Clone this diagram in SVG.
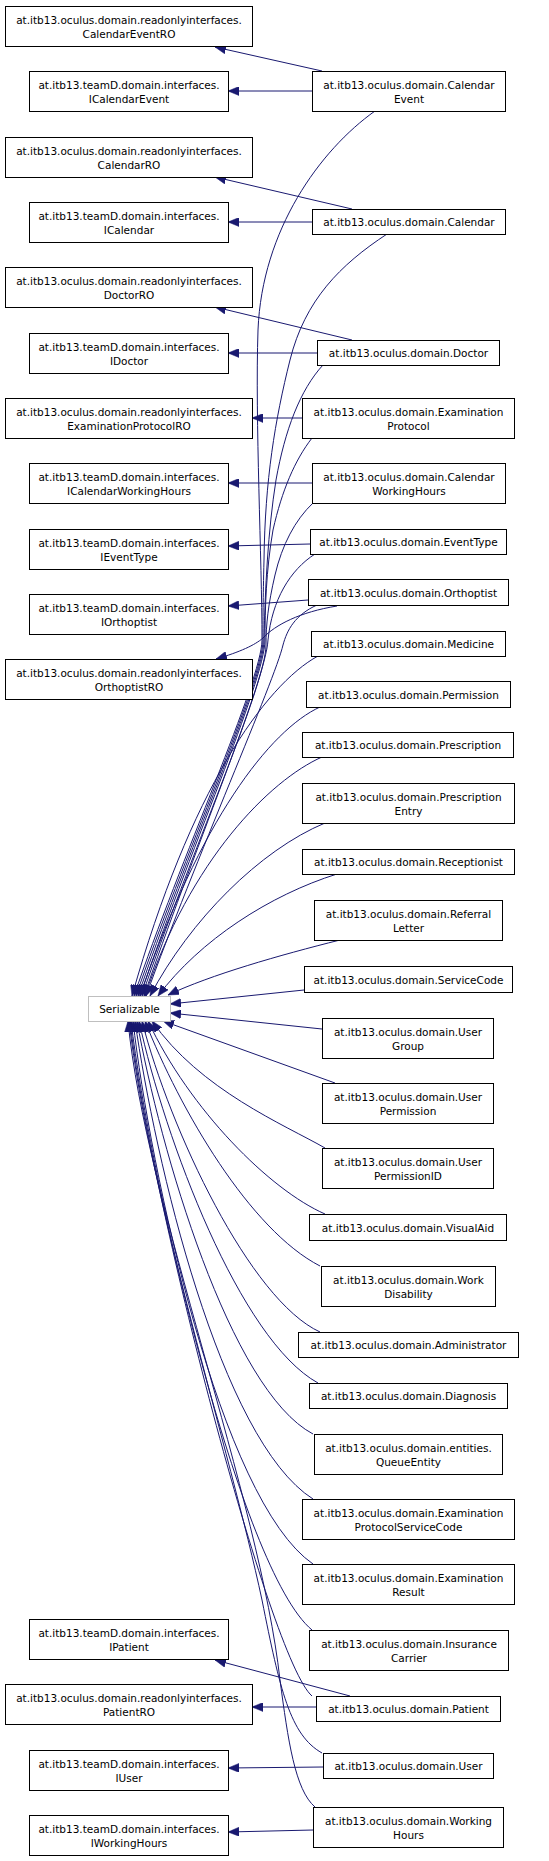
<svg xmlns="http://www.w3.org/2000/svg" width="549" height="1861" viewBox="0 0 549 1861">
<style>
.n rect{fill:#fff;stroke:#000;stroke-width:1}
.s rect{fill:#fff;stroke:#bfbfbf;stroke-width:1}
text{font-family:"DejaVu Sans","Liberation Sans",sans-serif;font-size:10.5px;fill:#000;text-anchor:middle}
#edges path{fill:none;stroke:#191970;stroke-width:1;marker-end:url(#ah)}
</style>
<defs>
<marker id="ah" markerUnits="userSpaceOnUse" markerWidth="12" markerHeight="9" refX="11" refY="4.5" orient="auto">
<path d="M0,0 L11,4.5 L0,9 z" fill="#191970" stroke="#191970" stroke-width="0.5"/>
</marker>
</defs>
<rect width="549" height="1861" fill="#fff"/>
<g id="edges">
<path d="M322,71 L215,47"/>
<path d="M312,91 L228,91"/>
<path d="M352,209 L215,177"/>
<path d="M312,222 L228,222"/>
<path d="M352,340 L215,307"/>
<path d="M317,353 L228,353"/>
<path d="M302,418 L252,418"/>
<path d="M312,483 L228,483"/>
<path d="M310,544 L228,546"/>
<path d="M308,600 L228,606"/>
<path d="M337,606 C300,612 275,625 263,638 C255,645 240,652 216,659"/>
<path d="M350,1696 L215,1660"/>
<path d="M316,1707 L252,1707"/>
<path d="M323,1767 L228,1768"/>
<path d="M313,1830 L228,1832"/>
<path d="M375,111 C320,150 262,230 258,330 C255,420 262,560 262,640 C262,680 180,860 134,996"/>
<path d="M387,234 C340,265 305,300 290,360 C275,420 265,480 264,560 C263,600 263,620 263,640 C263,680 182,860 136,996"/>
<path d="M323,365 C300,390 285,430 276,480 C268,530 265,590 264,640 C264,680 184,860 138,996"/>
<path d="M312,438 C295,460 282,490 273,530 C266,570 265,610 265,640 C265,680 186,860 140,996"/>
<path d="M313,503 C295,520 282,545 275,575 C268,605 266,625 266,645 C266,685 188,860 142,996"/>
<path d="M315,554 C290,570 272,600 268,640 C266,680 190,860 144,996"/>
<path d="M317,605 C295,615 287,630 283,645 C275,680 195,860 146,996"/>
<path d="M318,656 C265,685 190,790 132,996"/>
<path d="M320,707 C270,730 200,820 140,996"/>
<path d="M322,757 C270,780 190,860 145,996"/>
<path d="M325,823 C260,850 190,920 150,996"/>
<path d="M337,874 C270,895 200,940 158,996"/>
<path d="M340,940 C280,955 210,975 168,995"/>
<path d="M304,990 L170,1004"/>
<path d="M322,1029 L170,1013"/>
<path d="M335,1083 L163,1021"/>
<path d="M325,1148 C285,1125 200,1090 152,1021"/>
<path d="M325,1214 C270,1190 190,1110 148,1021"/>
<path d="M320,1266 C250,1230 180,1110 145,1021"/>
<path d="M320,1332 C250,1300 170,1130 142,1021"/>
<path d="M318,1383 C240,1340 165,1140 139,1021"/>
<path d="M313,1434 C230,1390 160,1150 137,1021"/>
<path d="M313,1499 C220,1440 155,1160 135,1021"/>
<path d="M313,1564 C220,1500 150,1170 133,1021"/>
<path d="M312,1630 C240,1570 150,1180 131,1021"/>
<path d="M312,1696 C270,1660 150,1200 130,1021"/>
<path d="M322,1753 C290,1735 280,1690 262,1600 C230,1450 150,1200 129,1021"/>
<path d="M315,1807 C295,1790 288,1740 280,1680 C260,1500 145,1200 128,1021"/>
</g>
<g id="CalendarEventRO" class="n"><rect x="5.5" y="6.5" width="247" height="40"/><text x="129" y="24">at.itb13.oculus.domain.readonlyinterfaces.</text><text x="129" y="38">CalendarEventRO</text></g>
<g id="ICalendarEvent" class="n"><rect x="29.5" y="71.5" width="199" height="40"/><text x="129" y="89">at.itb13.teamD.domain.interfaces.</text><text x="129" y="103">ICalendarEvent</text></g>
<g id="CalendarRO" class="n"><rect x="5.5" y="137.5" width="247" height="40"/><text x="129" y="155">at.itb13.oculus.domain.readonlyinterfaces.</text><text x="129" y="169">CalendarRO</text></g>
<g id="ICalendar" class="n"><rect x="29.5" y="202.5" width="199" height="40"/><text x="129" y="220">at.itb13.teamD.domain.interfaces.</text><text x="129" y="234">ICalendar</text></g>
<g id="DoctorRO" class="n"><rect x="5.5" y="267.5" width="247" height="40"/><text x="129" y="285">at.itb13.oculus.domain.readonlyinterfaces.</text><text x="129" y="299">DoctorRO</text></g>
<g id="IDoctor" class="n"><rect x="29.5" y="333.5" width="199" height="40"/><text x="129" y="351">at.itb13.teamD.domain.interfaces.</text><text x="129" y="365">IDoctor</text></g>
<g id="ExaminationProtocolRO" class="n"><rect x="5.5" y="398.5" width="247" height="40"/><text x="129" y="416">at.itb13.oculus.domain.readonlyinterfaces.</text><text x="129" y="430">ExaminationProtocolRO</text></g>
<g id="ICalendarWorkingHours" class="n"><rect x="29.5" y="463.5" width="199" height="40"/><text x="129" y="481">at.itb13.teamD.domain.interfaces.</text><text x="129" y="495">ICalendarWorkingHours</text></g>
<g id="IEventType" class="n"><rect x="29.5" y="529.5" width="199" height="40"/><text x="129" y="547">at.itb13.teamD.domain.interfaces.</text><text x="129" y="561">IEventType</text></g>
<g id="IOrthoptist" class="n"><rect x="29.5" y="594.5" width="199" height="40"/><text x="129" y="612">at.itb13.teamD.domain.interfaces.</text><text x="129" y="626">IOrthoptist</text></g>
<g id="OrthoptistRO" class="n"><rect x="5.5" y="659.5" width="247" height="40"/><text x="129" y="677">at.itb13.oculus.domain.readonlyinterfaces.</text><text x="129" y="691">OrthoptistRO</text></g>
<g id="Serializable" class="s"><rect x="88.5" y="996.5" width="82" height="25"/><text x="129.5" y="1013">Serializable</text></g>
<g id="IPatient" class="n"><rect x="29.5" y="1619.5" width="199" height="40"/><text x="129" y="1637">at.itb13.teamD.domain.interfaces.</text><text x="129" y="1651">IPatient</text></g>
<g id="PatientRO" class="n"><rect x="5.5" y="1684.5" width="247" height="40"/><text x="129" y="1702">at.itb13.oculus.domain.readonlyinterfaces.</text><text x="129" y="1716">PatientRO</text></g>
<g id="IUser" class="n"><rect x="29.5" y="1750.5" width="199" height="40"/><text x="129" y="1768">at.itb13.teamD.domain.interfaces.</text><text x="129" y="1782">IUser</text></g>
<g id="IWorkingHours" class="n"><rect x="29.5" y="1815.5" width="199" height="40"/><text x="129" y="1833">at.itb13.teamD.domain.interfaces.</text><text x="129" y="1847">IWorkingHours</text></g>
<g id="CalendarEvent" class="n"><rect x="312.5" y="71.5" width="193" height="40"/><text x="409" y="89">at.itb13.oculus.domain.Calendar</text><text x="409" y="103">Event</text></g>
<g id="Calendar" class="n"><rect x="312.5" y="209.5" width="193" height="25"/><text x="409" y="226">at.itb13.oculus.domain.Calendar</text></g>
<g id="Doctor" class="n"><rect x="317.5" y="340.5" width="182" height="25"/><text x="408.5" y="357">at.itb13.oculus.domain.Doctor</text></g>
<g id="ExaminationProtocol" class="n"><rect x="302.5" y="398.5" width="212" height="40"/><text x="408.5" y="416">at.itb13.oculus.domain.Examination</text><text x="408.5" y="430">Protocol</text></g>
<g id="CalendarWorkingHours" class="n"><rect x="312.5" y="463.5" width="193" height="40"/><text x="409" y="481">at.itb13.oculus.domain.Calendar</text><text x="409" y="495">WorkingHours</text></g>
<g id="EventType" class="n"><rect x="310.5" y="529.5" width="196" height="25"/><text x="408.5" y="546">at.itb13.oculus.domain.EventType</text></g>
<g id="Orthoptist" class="n"><rect x="308.5" y="579.5" width="200" height="26"/><text x="408.5" y="597">at.itb13.oculus.domain.Orthoptist</text></g>
<g id="Medicine" class="n"><rect x="311.5" y="631.5" width="194" height="25"/><text x="408.5" y="648">at.itb13.oculus.domain.Medicine</text></g>
<g id="Permission" class="n"><rect x="306.5" y="681.5" width="204" height="26"/><text x="408.5" y="699">at.itb13.oculus.domain.Permission</text></g>
<g id="Prescription" class="n"><rect x="302.5" y="732.5" width="211" height="25"/><text x="408" y="749">at.itb13.oculus.domain.Prescription</text></g>
<g id="PrescriptionEntry" class="n"><rect x="302.5" y="783.5" width="212" height="40"/><text x="408.5" y="801">at.itb13.oculus.domain.Prescription</text><text x="408.5" y="815">Entry</text></g>
<g id="Receptionist" class="n"><rect x="302.5" y="849.5" width="212" height="25"/><text x="408.5" y="866">at.itb13.oculus.domain.Receptionist</text></g>
<g id="ReferralLetter" class="n"><rect x="314.5" y="900.5" width="188" height="40"/><text x="408.5" y="918">at.itb13.oculus.domain.Referral</text><text x="408.5" y="932">Letter</text></g>
<g id="ServiceCode" class="n"><rect x="304.5" y="966.5" width="208" height="26"/><text x="408.5" y="984">at.itb13.oculus.domain.ServiceCode</text></g>
<g id="UserGroup" class="n"><rect x="322.5" y="1018.5" width="171" height="40"/><text x="408" y="1036">at.itb13.oculus.domain.User</text><text x="408" y="1050">Group</text></g>
<g id="UserPermission" class="n"><rect x="322.5" y="1083.5" width="171" height="40"/><text x="408" y="1101">at.itb13.oculus.domain.User</text><text x="408" y="1115">Permission</text></g>
<g id="UserPermissionID" class="n"><rect x="322.5" y="1148.5" width="171" height="40"/><text x="408" y="1166">at.itb13.oculus.domain.User</text><text x="408" y="1180">PermissionID</text></g>
<g id="VisualAid" class="n"><rect x="309.5" y="1214.5" width="197" height="26"/><text x="408" y="1232">at.itb13.oculus.domain.VisualAid</text></g>
<g id="WorkDisability" class="n"><rect x="321.5" y="1266.5" width="174" height="40"/><text x="408.5" y="1284">at.itb13.oculus.domain.Work</text><text x="408.5" y="1298">Disability</text></g>
<g id="Administrator" class="n"><rect x="298.5" y="1332.5" width="220" height="25"/><text x="408.5" y="1349">at.itb13.oculus.domain.Administrator</text></g>
<g id="Diagnosis" class="n"><rect x="309.5" y="1383.5" width="198" height="25"/><text x="408.5" y="1400">at.itb13.oculus.domain.Diagnosis</text></g>
<g id="QueueEntity" class="n"><rect x="314.5" y="1434.5" width="188" height="40"/><text x="408.5" y="1452">at.itb13.oculus.domain.entities.</text><text x="408.5" y="1466">QueueEntity</text></g>
<g id="ExaminationProtocolServiceCode" class="n"><rect x="302.5" y="1499.5" width="212" height="40"/><text x="408.5" y="1517">at.itb13.oculus.domain.Examination</text><text x="408.5" y="1531">ProtocolServiceCode</text></g>
<g id="ExaminationResult" class="n"><rect x="302.5" y="1564.5" width="212" height="40"/><text x="408.5" y="1582">at.itb13.oculus.domain.Examination</text><text x="408.5" y="1596">Result</text></g>
<g id="InsuranceCarrier" class="n"><rect x="309.5" y="1630.5" width="199" height="40"/><text x="409" y="1648">at.itb13.oculus.domain.Insurance</text><text x="409" y="1662">Carrier</text></g>
<g id="Patient" class="n"><rect x="316.5" y="1696.5" width="184" height="25"/><text x="408.5" y="1713">at.itb13.oculus.domain.Patient</text></g>
<g id="User" class="n"><rect x="323.5" y="1753.5" width="170" height="25"/><text x="408.5" y="1770">at.itb13.oculus.domain.User</text></g>
<g id="WorkingHours" class="n"><rect x="313.5" y="1807.5" width="190" height="40"/><text x="408.5" y="1825">at.itb13.oculus.domain.Working</text><text x="408.5" y="1839">Hours</text></g>
</svg>
